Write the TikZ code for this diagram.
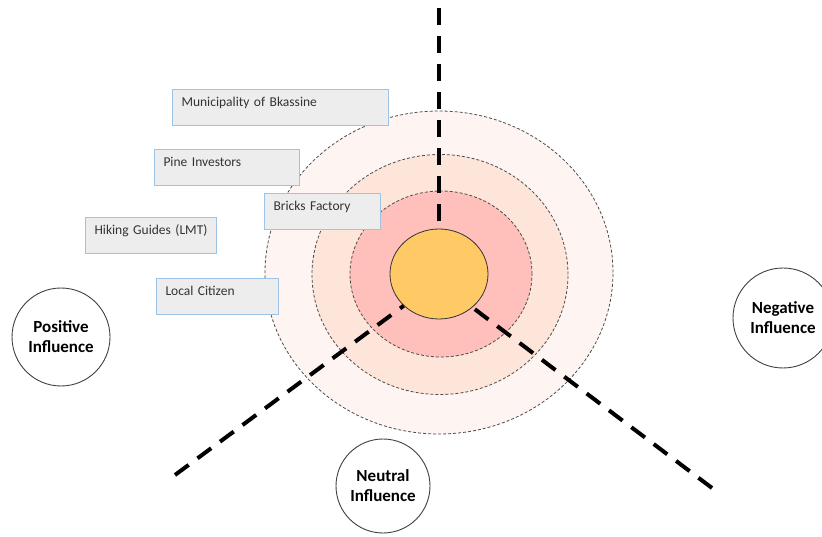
\documentclass[tikz,border=0pt]{standalone}
\usepackage{fontspec}
\setmainfont{Carlito}
\usetikzlibrary{shapes.geometric}
\definecolor{ringout}{HTML}{FEF5F2}
\definecolor{ringmid}{HTML}{FDE5DA}
\definecolor{ringin}{HTML}{FFBFBA}
\definecolor{corefill}{HTML}{FFCA66}
\definecolor{boxfill}{HTML}{EDEDED}
\definecolor{boxline}{HTML}{9DC3E6}
\tikzset{
  ring/.style={draw=black!70, dash pattern=on 3pt off 2pt, line width=0.8pt},
  axisline/.style={line width=4pt, dash pattern=on 17pt off 11pt},
  stakebox/.style={draw=boxline, fill=boxfill, line width=1pt, anchor=north west,
    align=left, inner xsep=9pt, inner ysep=7pt, text height=10pt, text depth=12pt,
    font=\fontsize{13.5}{15}\selectfont, text=black!80},
  influence/.style={circle, draw=black!75, fill=white, line width=0.9pt, inner sep=0pt,
    align=center, font=\fontsize{17}{20}\selectfont\bfseries}
}
\begin{document}
\begin{tikzpicture}[x=1pt,y=-1pt]
\useasboundingbox (0,0) rectangle (822,537);
\clip (0,0) rectangle (822,537);

% rings of influence
\draw[ring, fill=ringout] (439,272.5) ellipse [x radius=174pt, y radius=161.5pt];
\draw[ring, fill=ringmid] (440,274.5) ellipse [x radius=128pt, y radius=120pt];
\draw[ring, fill=ringin]  (441,274) ellipse [x radius=91pt, y radius=83pt];

\node[ellipse, draw=black!80, fill=corefill, line width=0.8pt, inner sep=0pt,
  minimum width=98pt, minimum height=90pt] (core) at (439,274) {};

\coordinate (ntop)   at (439,8);
\coordinate (nleft)  at (175,475);
\coordinate (nright) at (712,488);

\draw[axisline] (ntop) -- (core.north);
\draw[axisline] (nleft) -- (core.222);
\draw[axisline] (nright) -- (core.-45);

% stakeholders
\node[stakebox, text width=198pt] (muni)    at (172,89)  {Municipality of Bkassine};
\node[stakebox, text width=127pt] (pine)    at (154,149) {Pine Investors};
\node[stakebox, text width=98pt]  (bricks)  at (264,193) {Bricks Factory};
\node[stakebox, text width=113pt] (hiking)  at (85,217)  {Hiking Guides (LMT)};
\node[stakebox, text width=104pt] (citizen) at (156,278) {Local Citizen};

% influence types
\node[influence, minimum size=98pt]  (pos) at (61,337)  {Positive\\Influence};
\node[influence, minimum size=100pt] (neg) at (783,318) {Negative\\Influence};
\node[influence, minimum size=94pt]  (neu) at (383,486) {Neutral\\Influence};
\end{tikzpicture}
\end{document}
